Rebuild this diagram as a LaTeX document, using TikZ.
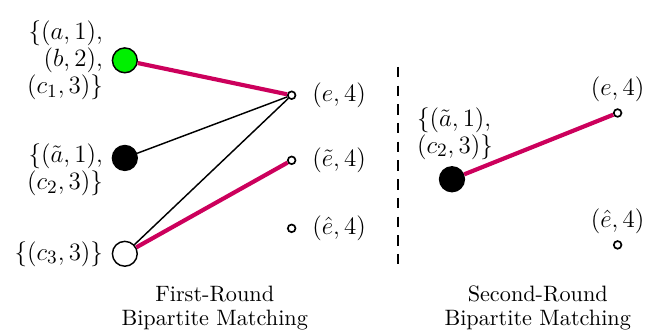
\documentclass[tikz,border=0pt]{standalone}
\usepackage{amsmath}
\usetikzlibrary{positioning}
\definecolor{matchred}{RGB}{204,0,92}
\definecolor{vgreen}{RGB}{0,240,0}

\begin{document}
\begin{tikzpicture}[
  bignode/.style={circle, draw, line width=0.7pt, minimum size=0.42cm, inner sep=0pt},
  dot/.style={circle, draw, fill=white, line width=0.8pt, minimum size=0.13cm, inner sep=0pt},
  lbl/.style={inner sep=2pt, font=\fontsize{12.3}{13}\selectfont},
  caption/.style={align=center, font=\fontsize{10.7}{11.6}\selectfont},
  matched/.style={matchred, line width=2pt},
  plain/.style={black, line width=0.7pt}]
  \useasboundingbox (0,0) rectangle (10.92,5.63);

  % First round: left vertices
  \node[bignode, fill=vgreen] (g1) at (2.11,4.61) {};
  \node[bignode, fill=black] (b1) at (2.11,2.96) {};
  \node[bignode, fill=white] (w1) at (2.11,1.34) {};
  \node[lbl, left=2pt of g1, align=right] (g1lbl) {$\{(a,1),$\\$(b,2),$\\$(c_1,3)\}$};
  \node[lbl, left=2pt of b1, yshift=-0.2cm, align=right] (b1lbl) {$\{(\tilde{a},1),$\\$(c_2,3)\}$};
  \node[lbl, left=2pt of w1] (w1lbl) {$\{(c_3,3)\}$};

  % First round: right vertices
  \node[dot] (e1) at (4.93,4.02) {};
  \node[dot] (et1) at (4.93,2.92) {};
  \node[dot] (eh1) at (4.93,1.77) {};
  \node[lbl, right=5.5pt of e1] (e1lbl) {$(e,4)$};
  \node[lbl, right=5.5pt of et1] (et1lbl) {$(\tilde{e},4)$};
  \node[lbl, right=5.5pt of eh1] (eh1lbl) {$(\hat{e},4)$};

  % Edges
  \draw[plain] (b1) -- (e1);
  \draw[plain] (w1) -- (e1);
  \draw[matched] (g1) -- (e1);
  \draw[matched] (w1) -- (et1);

  % Separator
  \coordinate (sepTop) at (6.73,4.50);
  \coordinate (sepBot) at (6.73,1.03);
  \draw[dashed, line width=0.8pt, dash pattern=on 5pt off 4pt] (sepTop) -- (sepBot);

  % Second round
  \node[bignode, fill=black] (b2) at (7.64,2.60) {};
  \node[lbl, above=1pt of b2, xshift=0.05cm, align=left] (b2lbl) {$\{(\tilde{a},1),$\\$(c_2,3)\}$};
  \node[dot] (e2) at (10.44,3.72) {};
  \node[dot] (eh2) at (10.44,1.49) {};
  \node[lbl, above=1pt of e2] (e2lbl) {$(e,4)$};
  \node[lbl, above=1pt of eh2] (eh2lbl) {$(\hat{e},4)$};
  \draw[matched] (b2) -- (e2);

  % Captions
  \node[caption] (cap1) at (3.63,0.42) {First-Round\\Bipartite Matching};
  \node[caption] (cap2) at (9.09,0.42) {Second-Round\\Bipartite Matching};
\end{tikzpicture}
\end{document}
